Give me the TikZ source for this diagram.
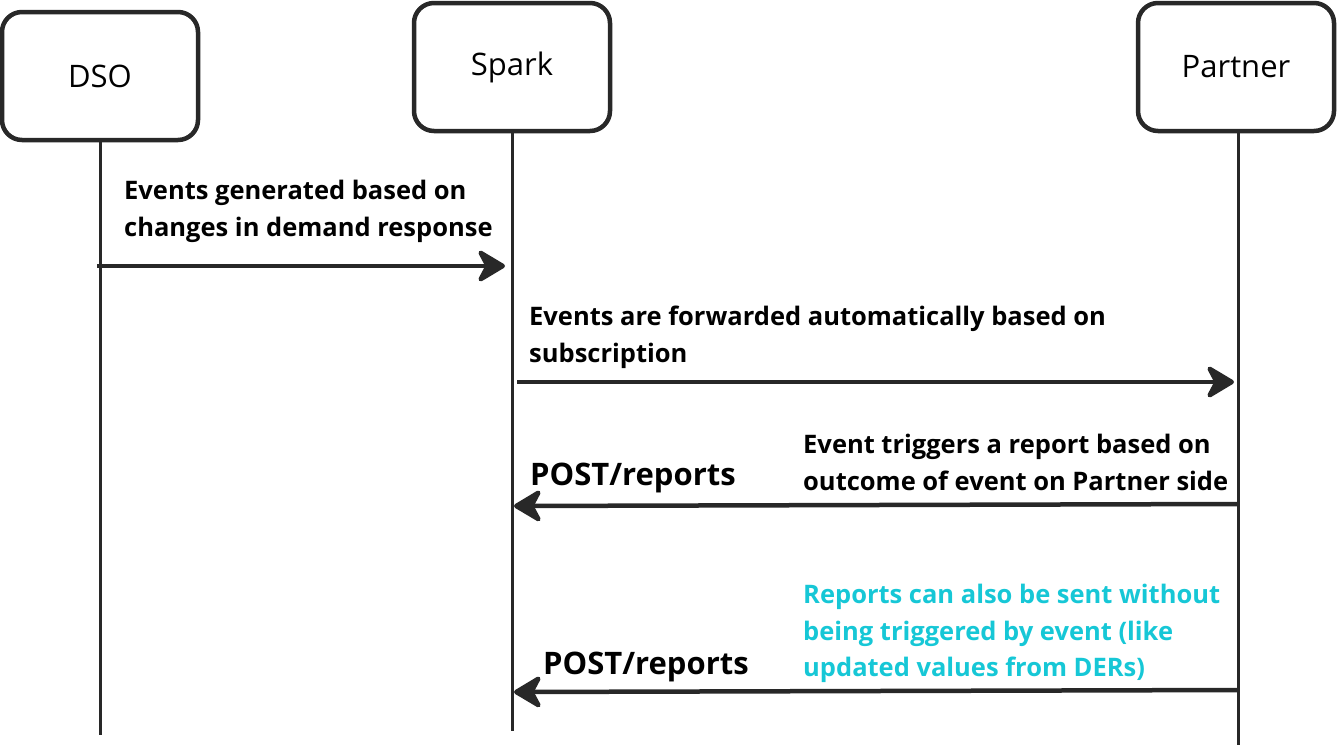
\documentclass[tikz,border=0pt]{standalone}
\usepackage{fontspec}
\setmainfont{Open Sans}
\usetikzlibrary{arrows.meta}
\definecolor{msgcyan}{RGB}{22,199,214}
\definecolor{ink}{RGB}{40,40,40}
\tikzset{
	actor/.style={draw=ink, line width=4.5pt, rounded corners=20pt, minimum width=196pt, minimum height=128pt, inner sep=0pt, font=\fontsize{31}{33}\selectfont},
	lifeline/.style={draw=ink, line width=3pt},
	msg/.style={draw=ink, line width=4.5pt, -{Stealth[length=32pt,width=38pt,inset=10pt,round]}},
	msgtext/.style={anchor=north west, inner sep=0pt, align=left, font=\bfseries\fontsize{25.5}{36.5}\selectfont},
	posttext/.style={anchor=north west, inner sep=0pt, font=\bfseries\fontsize{31}{33}\selectfont},
}
\begin{document}
\begin{tikzpicture}[x=1pt, y=-1pt]
	\useasboundingbox (0,0) rectangle (1337,747);
	\path
		(100,76) node[actor] (dso) {DSO}
		(512,67) node[actor] (spark) {Spark}
		(1236,67) node[actor] (partner) {Partner}
		(100,735) coordinate (dso end)
		(512,731) coordinate (spark end)
		(1238,745) coordinate (partner end)
	;
	\draw[lifeline]
		(dso.south) -- (dso end)
		(spark.south) -- (spark end)
		(partner.south -| partner end) -- (partner end)
	;
	% messages
	\path
		(97,266) coordinate (m1 from) (505,266) coordinate (m1 to)
		(517,382) coordinate (m2 from) (1234,382) coordinate (m2 to)
		(1238,504) coordinate (m3 from) (514,506) coordinate (m3 to)
		(1238,690) coordinate (m4 from) (514,692) coordinate (m4 to)
	;
	\draw[msg] (m1 from) -- (m1 to);
	\draw[msg] (m2 from) -- (m2 to);
	\draw[msg] (m3 from) -- (m3 to);
	\draw[msg] (m4 from) -- (m4 to);
	\node[msgtext] (t1) at (124,180) {Events generated based on\\changes in demand response};
	\node[msgtext] (t2) at (529,306) {Events are forwarded automatically based on\\subscription};
	\node[msgtext] (t3) at (803,434) {Event triggers a report based on\\outcome of event on Partner side};
	\node[msgtext, text=msgcyan] (t4) at (803,584) {Reports can also be sent without\\being triggered by event (like\\updated values from DERs)};
	\node[posttext] (p3) at (530,463) {POST/reports};
	\node[posttext] (p4) at (543,652) {POST/reports};
\end{tikzpicture}
\end{document}
